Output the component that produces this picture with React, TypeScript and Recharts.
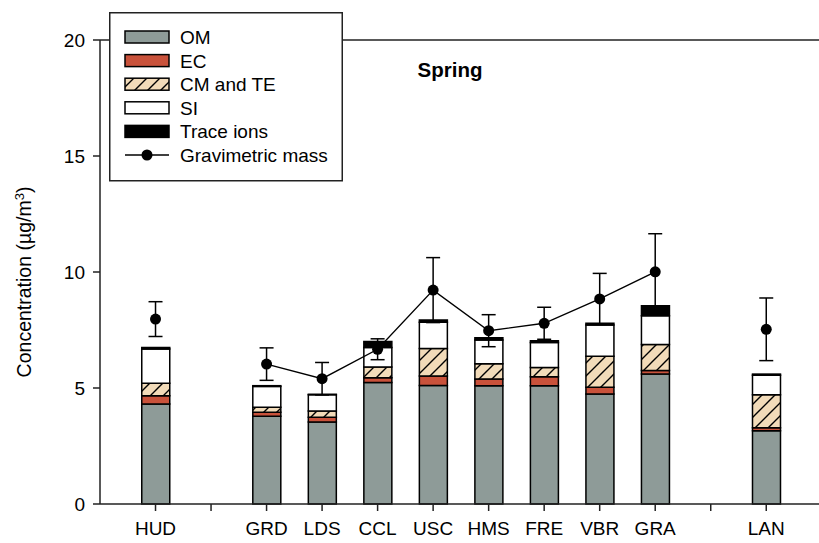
import {
  ComposedChart, Bar, Line, ErrorBar,
  XAxis, YAxis, Legend, ReferenceLine, Customized,
} from 'recharts';

// Spring PM2.5 composition per site, x slot 1..12 (slots 2 and 11 are spacers)
const SITES = ['HUD', '', 'GRD', 'LDS', 'CCL', 'USC', 'HMS', 'FRE', 'VBR', 'GRA', '', 'LAN'];
const OM = [4.31, null, 3.78, 3.53, 5.24, 5.11, 5.10, 5.10, 4.74, 5.60, null, 3.16];
const EC = [0.36, null, 0.17, 0.21, 0.20, 0.41, 0.29, 0.39, 0.29, 0.15, null, 0.13];
const CM_TE = [0.53, null, 0.22, 0.27, 0.47, 1.18, 0.66, 0.39, 1.34, 1.13, null, 1.42];
const SI = [1.48, null, 0.90, 0.70, 0.84, 1.13, 1.02, 1.08, 1.35, 1.23, null, 0.84];
const TRACE = [0.07, null, 0.03, 0.02, 0.25, 0.10, 0.10, 0.08, 0.07, 0.44, null, 0.05];
const GRAV = [7.97, null, 6.03, 5.40, 6.67, 9.22, 7.47, 7.79, 8.84, 10.01, null, 7.53];
const GRAV_SD = [0.75, null, 0.70, 0.70, 0.45, 1.40, 0.69, 0.69, 1.10, 1.64, null, 1.35];
const Y_TICKS = [0, 5, 10, 15, 20];

const data = SITES.map((site, i) => ({
  x: i + 1,
  site,
  om: OM[i],
  ec: EC[i],
  cm: CM_TE[i],
  si: SI[i],
  trace: TRACE[i],
  grav: GRAV[i],
  gravSd: GRAV_SD[i],
}));

const FONT = '"Liberation Sans", Arial, sans-serif';
const FS = 19;
const OM_COLOR = '#8e9b98';
const EC_COLOR = '#c9523b';
const CM_COLOR = '#f2dbb9';

const HatchDef = ({ id }: { id: string }) => (
  <defs>
    <pattern id={id} patternUnits="userSpaceOnUse" width={13} height={13}>
      <rect width={13} height={13} fill={CM_COLOR} />
      <path d="M-1,14 L14,-1 M-4,4 L4,-4 M9,17 L17,9" stroke="#000" strokeWidth={1.4} />
    </pattern>
  </defs>
);

const LEGEND_ROWS = [
  { label: 'OM', fill: OM_COLOR },
  { label: 'EC', fill: EC_COLOR },
  { label: 'CM and TE', fill: 'url(#hatch-legend)' },
  { label: 'SI', fill: '#fff' },
  { label: 'Trace ions', fill: '#000' },
];

const renderLegend = () => (
  <svg width={234} height={170} style={{ display: 'block', background: '#fff' }}>
    <HatchDef id="hatch-legend" />
    <rect x={0.75} y={0.75} width={232.5} height={168} fill="#fff" stroke="#222" strokeWidth={1.5} />
    {LEGEND_ROWS.map((r, i) => (
      <g key={r.label}>
        <rect x={16} y={19 + i * 23.6} width={44} height={12} fill={r.fill} stroke="#000" strokeWidth={1.5} />
        <text x={71} y={32 + i * 23.6} fontSize={FS} fontFamily={FONT} fill="#000">{r.label}</text>
      </g>
    ))}
    <line x1={16} x2={60} y1={143} y2={143} stroke="#000" strokeWidth={1.5} />
    <circle cx={38} cy={143} r={5.5} fill="#000" />
    <text x={71} y={150} fontSize={FS} fontFamily={FONT} fill="#000">Gravimetric mass</text>
  </svg>
);

const YLabel = () => (
  <text transform="translate(31,282) rotate(-90)" textAnchor="middle" fontSize={19.5} fontFamily={FONT} fill="#000">
    Concentration (µg/m<tspan dy={-7} fontSize={13}>3</tspan><tspan dy={7}>)</tspan>
  </text>
);

const SeasonTitle = () => (
  <text x={450} y={77} textAnchor="middle" fontSize={20.5} fontWeight="bold" fontFamily={FONT} fill="#000">
    Spring
  </text>
);

const segStroke = { stroke: '#000', strokeWidth: 1.5 };

export default function App() {
  return (
    <div style={{ position: 'absolute', left: 0, top: 0, width: 819, height: 543, overflow: 'hidden', background: '#fff' }}>
      <ComposedChart width={819} height={543} data={data} margin={{ top: 40, right: 0, left: 0, bottom: 0 }}>
        <HatchDef id="hatch-cm" />
        <XAxis
          dataKey="x"
          type="number"
          domain={[0, 12.95]}
          allowDataOverflow
          ticks={data.map((d) => d.x)}
          tickFormatter={(v: number) => SITES[v - 1] ?? ''}
          interval={0}
          height={39}
          tickSize={7}
          tickMargin={11}
          stroke="#222"
          strokeWidth={1.5}
          tick={{ fontSize: FS, fill: '#000', fontFamily: FONT }}
        />
        <YAxis
          type="number"
          domain={[0, 20]}
          ticks={Y_TICKS}
          width={100}
          tickSize={7}
          tickMargin={8}
          stroke="#222"
          strokeWidth={1.5}
          tick={{ fontSize: FS, fill: '#000', fontFamily: FONT }}
          label={{ content: () => <YLabel /> }}
        />
        <ReferenceLine y={20} stroke="#222" strokeWidth={1.5} />
        <Bar dataKey="om" stackId="s" fill={OM_COLOR} barSize={28} {...segStroke} isAnimationActive={false} />
        <Bar dataKey="ec" stackId="s" fill={EC_COLOR} barSize={28} {...segStroke} isAnimationActive={false} />
        <Bar dataKey="cm" stackId="s" fill="url(#hatch-cm)" barSize={28} {...segStroke} isAnimationActive={false} />
        <Bar dataKey="si" stackId="s" fill="#fff" barSize={28} {...segStroke} isAnimationActive={false} />
        <Bar dataKey="trace" stackId="s" fill="#000" barSize={28} {...segStroke} isAnimationActive={false} />
        <Line
          dataKey="grav"
          stroke="#000"
          strokeWidth={1.4}
          connectNulls={false}
          dot={{ r: 5.5, fill: '#000', stroke: '#000', strokeWidth: 0 }}
          isAnimationActive={false}
        >
          <ErrorBar dataKey="gravSd" direction="y" width={7} stroke="#000" strokeWidth={1.5} />
        </Line>
        <Customized component={SeasonTitle} />
        <Legend
          layout="horizontal"
          verticalAlign="middle"
          align="center"
          content={renderLegend}
          wrapperStyle={{ left: 109, top: 12, width: 234, height: 170 }}
        />
      </ComposedChart>
    </div>
  );
}
